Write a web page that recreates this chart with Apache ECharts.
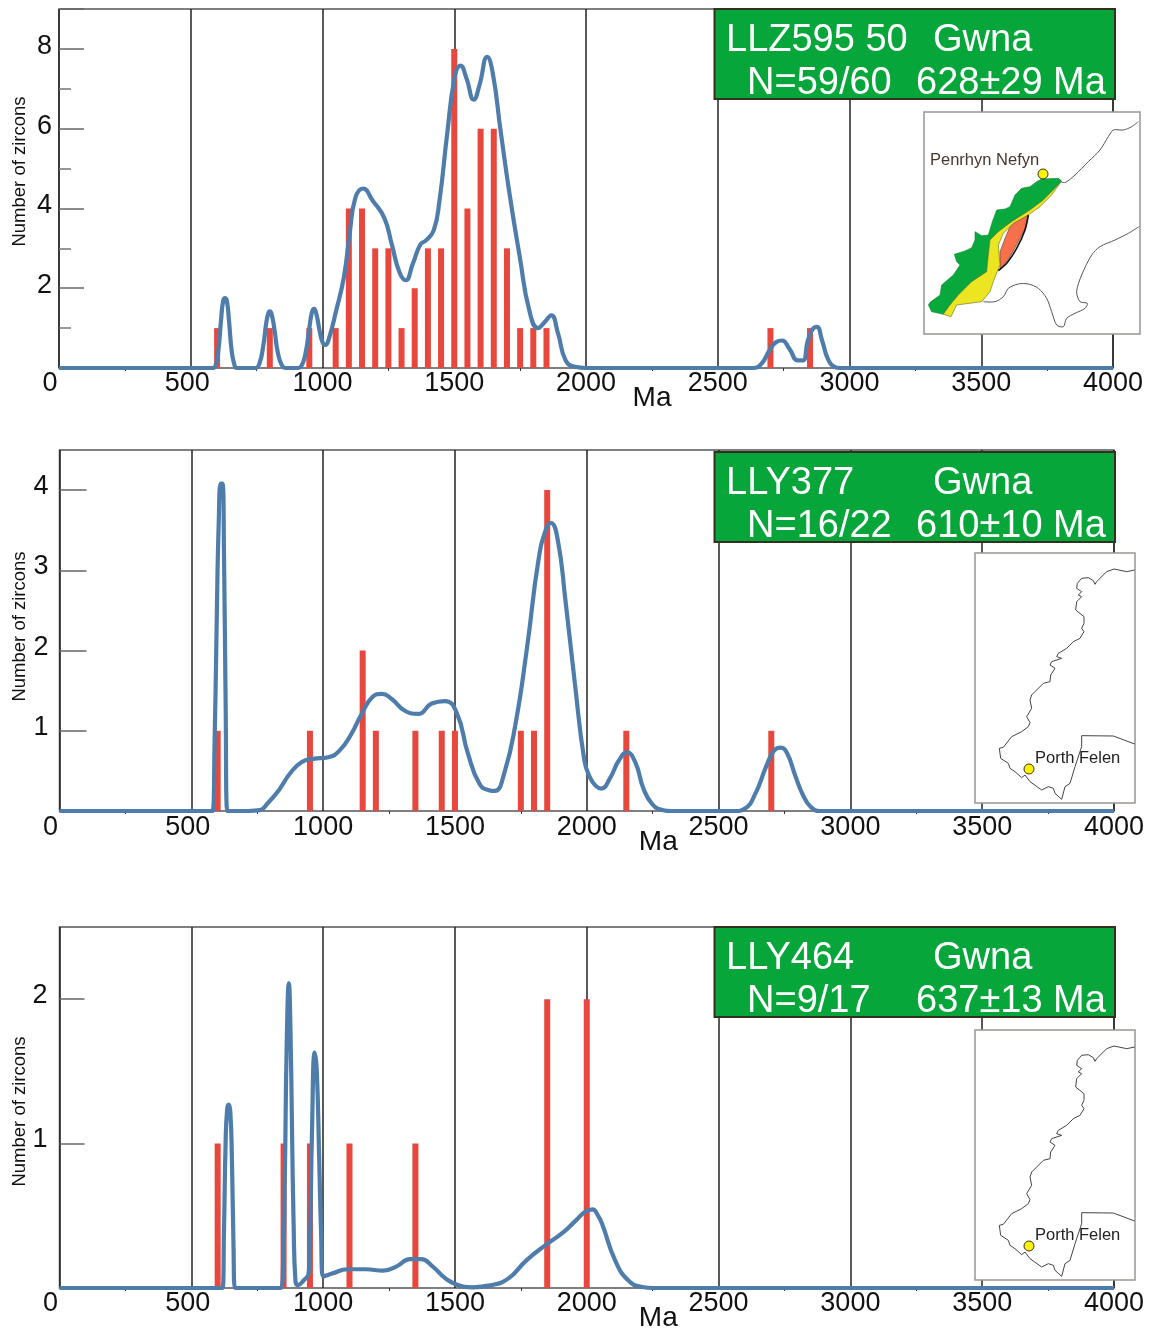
<!DOCTYPE html>
<html><head><meta charset="utf-8">
<style>html,body{margin:0;padding:0;background:#fff}#c{width:1152px;height:1333px}</style>
<script src="https://cdn.jsdelivr.net/npm/echarts@6/dist/echarts.min.js"></script>
</head><body><div id="c"></div>
<script>
// ---------- data ----------
const xTickStep = 500;
const xMaxAge = 4000;

const barAges1 = [600,800,950,1050,1100,1150,1200,1250,1300,1350,1400,1450,1500,1550,1600,1650,1700,1750,1800,1850,2700,2850];
const barCounts1 = [1,1,1,1,4,4,3,3,1,2,3,3,8,4,6,6,3,1,1,1,1,1];
const curveAges1 = [0,583,595,605,615,623,630,637,645,655,665,675,745,760,775,787,795,800,807,818,830,845,860,905,920,935,950,960,968,977,990,1000,1011,1025,1052,1081,1103,1125,1154,1190,1234,1263,1292,1316,1342,1372,1393,1422,1444,1473,1502,1524,1546,1574,1596,1625,1646,1676,1712,1749,1785,1818,1843,1868,1894,1923,1959,2000,2633,2665,2696,2722,2744,2772,2804,2823,2842,2861,2876,2896,2918,2943,2965,4000];
const curveValues1 = [0,0,.08,.45,1.2,1.68,1.75,1.68,1.2,.45,.1,0,0,.1,.55,1.15,1.38,1.42,1.35,.95,.4,.08,0,0,.05,.35,1,1.4,1.48,1.35,.9,.65,.58,.75,1.44,2.27,3.36,4.27,4.5,4.2,3.77,3.1,2.4,2.2,2.6,3.1,3.2,3.45,4.2,5.86,7.3,7.58,7.27,6.73,7.1,7.8,7.4,5.94,4.27,2.77,1.44,1,1.15,1.32,.86,.19,.03,0,0,.1,.44,.65,.69,.48,.19,.19,.69,.98,1.03,.69,.23,.03,0,0];

const barAges2 = [600,950,1150,1200,1350,1450,1500,1750,1800,1850,2150,2700];
const barCounts2 = [1,1,2,1,1,1,1,1,1,4,1,1];
const curveAges2 = [0,580,588,596,604,612,618,624,630,637,716,760,788,832,875,919,962,1020,1064,1107,1143,1187,1223,1259,1310,1361,1412,1462,1506,1549,1593,1629,1651,1687,1730,1774,1817,1846,1864,1890,1919,1955,1991,2012,2035,2055,2090,2120,2153,2185,2215,2250,2290,2320,2560,2600,2640,2680,2710,2735,2760,2790,2820,2850,2885,4000];
const curveValues2 = [0,0,.8,2.3,3.6,4.08,4.08,3.2,1.4,0,0,.01,.09,.26,.47,.61,.65,.67,.76,.96,1.19,1.42,1.46,1.4,1.25,1.21,1.34,1.37,1.23,.72,.34,.26,.25,.47,1.09,2.05,3.13,3.52,3.59,3.38,2.63,1.59,.63,.42,.31,.28,.42,.62,.73,.6,.28,.08,.01,0,0,.03,.22,.55,.75,.79,.72,.45,.2,.05,0,0];

const barAges3 = [600,850,950,1100,1350,1850,2000];
const barCounts3 = [1,1,1,1,1,2,2];
const curveAges3 = [0,618,624,630,636,642,648,654,660,666,838,848,855,862,870,876,882,888,895,905,925,945,950,958,968,976,985,992,1000,1034,1093,1161,1228,1279,1330,1372,1415,1465,1508,1567,1634,1702,1770,1846,1914,1960,1995,2022,2040,2058,2108,2159,2210,2250,4000];
const curveValues3 = [0,0,.4,1,1.24,1.27,1.22,.9,.3,0,0,.15,.8,1.7,2.11,1.8,1.1,.45,.05,.02,.05,.1,.3,1.1,1.63,1.5,.9,.4,.08,.1,.13,.13,.12,.15,.2,.2,.15,.065,.023,.005,.018,.065,.19,.3,.39,.47,.53,.545,.51,.445,.19,.05,.007,0,0];

const boxLines1 = ['LLZ595 50','Gwna','N=59/60','628±29 Ma'];
const boxLines2 = ['LLY377','Gwna','N=16/22','610±10 Ma'];
const boxLines3 = ['LLY464','Gwna','N=9/17','637±13 Ma'];
const xAxisTitle = 'Ma';
const yAxisTitle = 'Number of zircons';

// ---------- inset outlines (drawing units of the inset sketch) ----------
const gwnaGreen=[[40,600],[45,592],[75,570],[80,540],[115,510],[135,480],[125,470],[118,448],[150,438],[170,428],[180,405],[180,380],[200,392],[220,390],[232,350],[245,315],[270,312],[285,305],[300,270],[320,250],[345,245],[365,230],[380,222],[430,220],[440,228],[415,255],[385,285],[345,315],[290,350],[250,380],[225,405],[220,450],[215,500],[170,530],[130,570],[105,600],[85,628],[50,620]];
const gwnaYellow=[[440,228],[410,270],[375,305],[340,330],[295,355],[265,385],[250,420],[255,480],[248,497],[235,530],[225,560],[200,590],[125,600],[108,635],[85,628],[105,600],[130,570],[170,530],[215,500],[220,450],[225,405],[250,380],[290,350],[345,315],[385,285],[415,255]];
const gwnaOrange=[[340,330],[330,370],[310,410],[285,455],[255,495],[255,440],[270,400],[285,365],[300,352]];
const gwnaEdge=[[340,330],[330,375],[305,430],[275,475],[250,497]];
const coastA=[[440,232],[452,232],[480,210],[520,170],[555,135],[580,95],[595,75],[625,75],[650,65],[670,50]];
const coastB=[[205,590],[240,590],[265,575],[280,550],[310,537],[340,537],[370,550],[395,580],[410,620],[425,660],[445,665],[455,640],[480,625],[510,610],[517,595],[495,590],[485,560],[500,510],[530,450],[555,425],[600,405],[640,385],[672,365]];
const coastC=[[524,90],[500,95],[462,87],[440,95],[410,125],[405,133],[400,122],[385,113],[365,115],[352,130],[350,145],[365,155],[355,165],[365,170],[350,185],[347,210],[372,230],[372,250],[365,265],[372,275],[360,295],[340,305],[320,325],[295,340],[290,350],[305,355],[275,365],[270,375],[285,385],[272,405],[270,425],[250,430],[215,465],[210,480],[215,505],[200,530],[210,548],[205,560],[185,575],[155,590],[130,622],[118,625],[122,655],[145,670],[150,685],[165,695],[185,713],[195,705],[210,725],[245,750],[265,740],[280,745],[285,760],[305,778],[315,740],[330,730],[345,680],[365,620],[365,587],[460,588],[524,612]];

// ---------- helpers ----------
const FONT='"Liberation Sans", Arial, sans-serif';
const zip=(a,b)=>a.map((v,i)=>[v,b[i]]);
const BLUE='#4f7dab', RED='#e8473d', GREEN='#06a63b';
const panels=[
 {top:9,h:359,left:59,w:1054,ymax:9,yint:2,minor:true,tick:25,lab:7,labPad:5,namePad:[0,0,0,34],maPad:132,maGap:16,xMargin:2,bars:[barAges1,barCounts1],curve:[curveAges1,curveValues1]},
 {top:450,h:361,left:59.5,w:1054.5,ymax:4.5,yint:1,minor:false,tick:27,lab:11,labPad:7,namePad:[0,0,0,8],maPad:143,maGap:17,xMargin:3,bars:[barAges2,barCounts2],curve:[curveAges2,curveValues2]},
 {top:927,h:361,left:59.5,w:1054.5,ymax:2.5,yint:1,minor:false,tick:25,lab:12,labPad:8,namePad:[0,8,0,0],maPad:143,maGap:16,xMargin:2,bars:[barAges3,barCounts3],curve:[curveAges3,curveValues3]}
];
const grid=[],xAxis=[],yAxis=[],series=[];
panels.forEach((p,i)=>{
  grid.push({left:p.left,top:p.top,width:p.w,height:p.h,outerBoundsMode:'none',containLabel:false,show:true,backgroundColor:'transparent',borderColor:'#555',borderWidth:1.5});
  xAxis.push({type:'value',gridIndex:i,min:0,max:xMaxAge,interval:xTickStep,
    name:xAxisTitle,nameLocation:'middle',nameGap:p.maGap,nameMoveOverlap:false,
    nameTextStyle:{fontFamily:FONT,fontSize:28,color:'#111',padding:[0,0,0,p.maPad]},
    axisLine:{show:false},
    axisTick:{show:false},
    minorTick:{show:true,splitNumber:2,length:3,lineStyle:{color:'#333',width:1}},
    splitLine:{show:true,lineStyle:{color:'#222',width:1.5}},
    axisLabel:{margin:p.xMargin,fontFamily:FONT,fontSize:27,color:'#111',hideOverlap:false,
      formatter:v=>v===0?'{z|0}':v===500?'{f|500}':String(v),
      rich:{z:{fontFamily:FONT,fontSize:27,color:'#111',padding:[0,18,0,0]},f:{fontFamily:FONT,fontSize:27,color:'#111',padding:[0,7,0,0]}}}
  });
  yAxis.push({type:'value',gridIndex:i,min:0,max:p.ymax,interval:p.yint,
    name:yAxisTitle,nameLocation:'middle',nameGap:30,nameRotate:90,nameMoveOverlap:false,
    nameTextStyle:{fontFamily:FONT,fontSize:18.5,color:'#111',padding:p.namePad},
    axisLine:{show:false},
    axisTick:{show:true,inside:true,length:p.tick,lineStyle:{color:'#666',width:1.5}},
    minorTick:{show:p.minor,splitNumber:2,length:12,lineStyle:{color:'#777',width:1.5}},
    splitLine:{show:false},
    axisLabel:{margin:p.lab,fontFamily:FONT,fontSize:27,color:'#111',showMaxLabel:false,
      formatter:v=>v===0?'':'{n|'+v+'}',
      rich:{n:{fontFamily:FONT,fontSize:27,color:'#111',padding:[0,0,p.labPad,0]}}}
  });
  series.push({type:'bar',xAxisIndex:i,yAxisIndex:i,barWidth:6,data:zip(p.bars[0],p.bars[1]),itemStyle:{color:RED},silent:true,z:3,animation:false});
  series.push({type:'line',xAxisIndex:i,yAxisIndex:i,data:zip(p.curve[0],p.curve[1]),showSymbol:false,symbol:'none',smooth:0.5,clip:false,lineStyle:{color:BLUE,width:4.2},z:4,animation:false});
});

// ---------- overlay: green header boxes and locator insets ----------
const gfx=[];
function header(y,lines){
  gfx.push({type:'rect',z:100,shape:{x:714.5,y:y,width:400.5,height:90},style:{fill:GREEN,stroke:'#33301f',lineWidth:2}});
  const st=(t,x,yy)=>gfx.push({type:'text',z:101,style:{text:t,x:x,y:yy,font:'38px '+FONT,fill:'#fff',textVerticalAlign:'middle'}});
  st(lines[0],726,y+32);st(lines[1],933,y+32);st(lines[2],747,y+75);st(lines[3],916,y+75);
}
header(9,boxLines1);header(452,boxLines2);header(927,boxLines3);

function mapper(ox,oy){return pts=>pts.map(p=>[ox+p[0]/3,oy+p[1]/3]);}
function frame(x,y,w,h){gfx.push({type:'rect',z:100,shape:{x,y,width:w,height:h},style:{fill:'#fff',stroke:'#9a9690',lineWidth:1.5}});}
function line(pts,color,w,sm){gfx.push({type:'polyline',z:102,shape:{points:pts,smooth:sm||0},style:{stroke:color,fill:null,lineWidth:w,lineJoin:'round'}});}
function area(pts,fill,stroke){gfx.push({type:'polygon',z:101,shape:{points:pts},style:{fill,stroke:stroke||'#555',lineWidth:0.6,lineJoin:'round'}});}
function dot(x,y){gfx.push({type:'circle',z:103,shape:{cx:x,cy:y,r:5},style:{fill:'#fff200',stroke:'#3a3320',lineWidth:1}});}
function label(t,x,y,c){gfx.push({type:'text',z:103,style:{text:t,x,y,font:'16.5px '+FONT,fill:c,textVerticalAlign:'middle'}});}

// Penrhyn Nefyn inset
frame(924,112,216,222);
const m1=mapper(915,105);
line(m1(coastA),'#555',1,0.3);line(m1(coastB),'#555',1,0.3);
area(m1(gwnaGreen),'#08a83c','#0a8a35');
area(m1(gwnaOrange),'#f8704a','#444');
line(m1(gwnaEdge),'#111',1.6,0.3);
area(m1(gwnaYellow),'#ece522','#6a6a20');
dot(1043,174);
label('Penrhyn Nefyn',930,160,'#46382c');

// Porth Felen insets
[0,477].forEach(dy=>{
  frame(975,553+dy,160,250);
  line(mapper(960,540+dy)(coastC),'#444',1);
  dot(1029,769+dy);
  label('Porth Felen',1035,758+dy,'#222');
});

const chart=echarts.init(document.getElementById('c'),null,{renderer:'canvas'});
chart.setOption({animation:false,backgroundColor:'#fff',grid,xAxis,yAxis,series,graphic:{elements:gfx},tooltip:{show:false}});
</script></body></html>
